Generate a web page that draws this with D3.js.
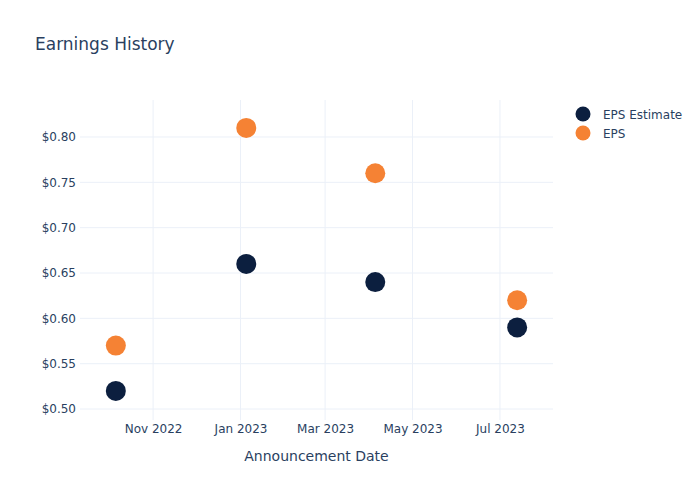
<!DOCTYPE html>
<html><head><meta charset="utf-8">
<script src="https://cdn.jsdelivr.net/npm/d3@7"></script>
<style>body{margin:0;background:#fff;} text{font-family:"DejaVu Sans",sans-serif;}</style>
</head><body>
<svg id="c" width="700" height="500"></svg>
<script>
const dates = ["2022-10-06","2023-01-05","2023-04-05","2023-07-13"];
const epsEstimate = [0.52, 0.66, 0.64, 0.59];
const eps = [0.57, 0.81, 0.76, 0.62];
const yTicks = [0.50,0.55,0.60,0.65,0.70,0.75,0.80];
const xTicks = ["2022-11-01","2023-01-01","2023-03-01","2023-05-01","2023-07-01"];
const xRange = ["2022-09-11","2023-08-07"];
const yRange = [0.4879, 0.8408];
const seriesNames = ["EPS Estimate","EPS"];
const colors = ["#0c1f3f","#f58234"];

const parse = d3.utcParse("%Y-%m-%d");
const svg = d3.select("#c");
const M = {l:80, r:553, t:100, b:420};
const x = d3.scaleUtc().domain(xRange.map(parse)).range([M.l, M.r]);
const y = d3.scaleLinear().domain(yRange).range([M.b, M.t]);
const txt = "#2a3f5f", grid = "#ebf0f8";

// gridlines
svg.append("g").selectAll("line").data(yTicks).join("line")
  .attr("x1",M.l).attr("x2",M.r).attr("y1",d=>y(d)).attr("y2",d=>y(d))
  .attr("stroke",grid).attr("stroke-width",1);
svg.append("g").selectAll("line").data(xTicks).join("line")
  .attr("y1",M.t).attr("y2",M.b).attr("x1",d=>x(parse(d))).attr("x2",d=>x(parse(d)))
  .attr("stroke",grid).attr("stroke-width",1);

// axes
const yAxis = d3.axisLeft(y).tickValues(yTicks).tickFormat(d=>"$"+d.toFixed(2)).tickSize(0).tickPadding(3);
const gy = svg.append("g").attr("transform",`translate(${M.l-1},0)`).call(yAxis);
gy.select(".domain").remove();
gy.selectAll("text").attr("fill",txt).style("font-size","12px").style("font-family","DejaVu Sans");

const xAxis = d3.axisBottom(x).tickValues(xTicks.map(parse)).tickFormat(d3.utcFormat("%b %Y")).tickSize(0).tickPadding(4);
const gx = svg.append("g").attr("transform",`translate(0,${M.b})`).call(xAxis);
gx.select(".domain").remove();
gx.selectAll("text").attr("fill",txt).style("font-size","12px").style("font-family","DejaVu Sans");

// points
const series = [epsEstimate, eps];
series.forEach((vals,i)=>{
  svg.append("g").selectAll("circle").data(vals).join("circle")
    .attr("cx",(d,j)=>x(parse(dates[j]))).attr("cy",d=>y(d)).attr("r",10)
    .attr("fill",colors[i]);
});

// title
svg.append("text").attr("x",35).attr("y",50).text("Earnings History")
  .attr("fill",txt).style("font-size","17px");
svg.append("text").attr("x",(M.l+M.r)/2).attr("y",461).attr("text-anchor","middle")
  .text("Announcement Date").attr("fill",txt).style("font-size","14px");

// legend
const lg = svg.append("g");
seriesNames.forEach((n,i)=>{
  lg.append("circle").attr("cx",583).attr("cy",114+i*19).attr("r",7.5).attr("fill",colors[i]);
  lg.append("text").attr("x",603).attr("y",118.5+i*19).text(n).attr("fill",txt).style("font-size","12px");
});
</script>
</body></html>
